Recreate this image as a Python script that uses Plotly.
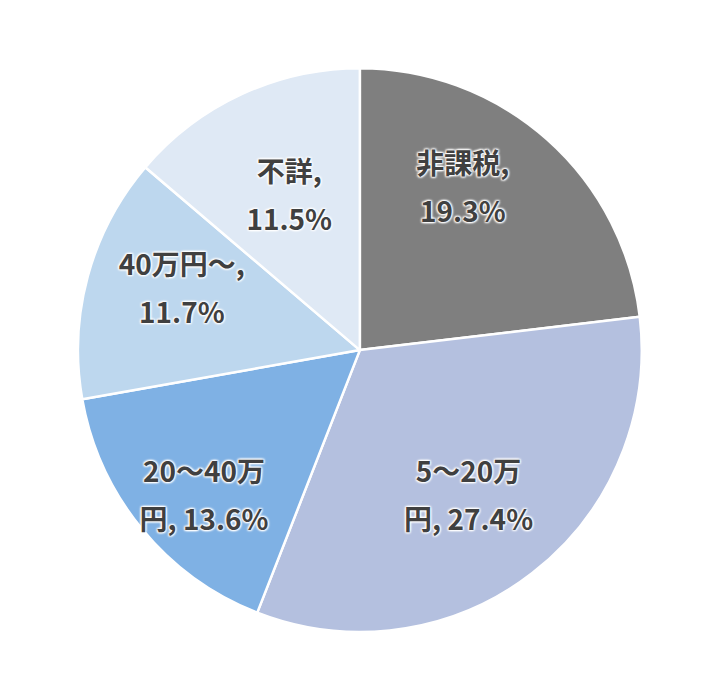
import plotly.graph_objects as go

# 区分ごとの割合（％）
labels = ['非課税', '5～20万円', '20～40万円', '40万円～', '不詳']
values = [19.3, 27.4, 13.6, 11.7, 11.5]
# 表示用ラベル（改行位置は元図に合わせる）
label_lines = [('非課税,', '{v}%'), ('5～20万', '円, {v}%'), ('20～40万', '円, {v}%'),
               ('40万円～,', '{v}%'), ('不詳,', '{v}%')]
colors = ['#7f7f7f', '#b4c0df', '#7fb1e4', '#bdd7ee', '#dfe9f5']

# ラベル位置の微調整用（空行・空白）
pad_top = [0, 1, 1, 0, 1]
pad_bottom = [["", "<span style='font-size:64px'><sup>\u00a0</sup></span>"], [], [],
              ["<span style='font-size:82px'><sup>\u00a0</sup></span>"], []]
pad_left = [0, 5, 0, 4, 4]
pad_right = [3, 0, 3, 0, 0]

NB = '\u00a0'
span = "<span style='font-size:28px'>{}</span>"
texts = []
for (a, b), v, t, bt, l, r in zip(label_lines, values, pad_top, pad_bottom, pad_left, pad_right):
    rows = [span.format(NB)] * t
    rows += [span.format(NB * l + a + NB * r), span.format(NB * l + b.format(v=v) + NB * r)]
    rows += bt
    texts.append('<br>'.join(rows))

fig = go.Figure(go.Pie(
    labels=labels,
    values=values,
    text=texts,
    textinfo='text',
    textposition='inside',
    insidetextorientation='horizontal',
    sort=False,
    direction='clockwise',
    rotation=0,
    marker=dict(colors=colors, line=dict(color='white', width=2.5)),
    textfont=dict(family='Noto Sans CJK JP', size=37, color='#404040', weight='bold',
                  shadow='1px 1px 2px white, -1px -1px 2px white, 1px -1px 2px white, -1px 1px 2px white'),
    hoverinfo='label+value',
    domain=dict(x=[0.097, 0.879], y=[0.1086, 0.914]),
))

fig.update_layout(
    width=721, height=700,
    margin=dict(l=0, r=0, t=0, b=0),
    showlegend=False,
    paper_bgcolor='white',
    uniformtext=dict(minsize=37, mode='show'),
)

fig.write_html("out.html")
